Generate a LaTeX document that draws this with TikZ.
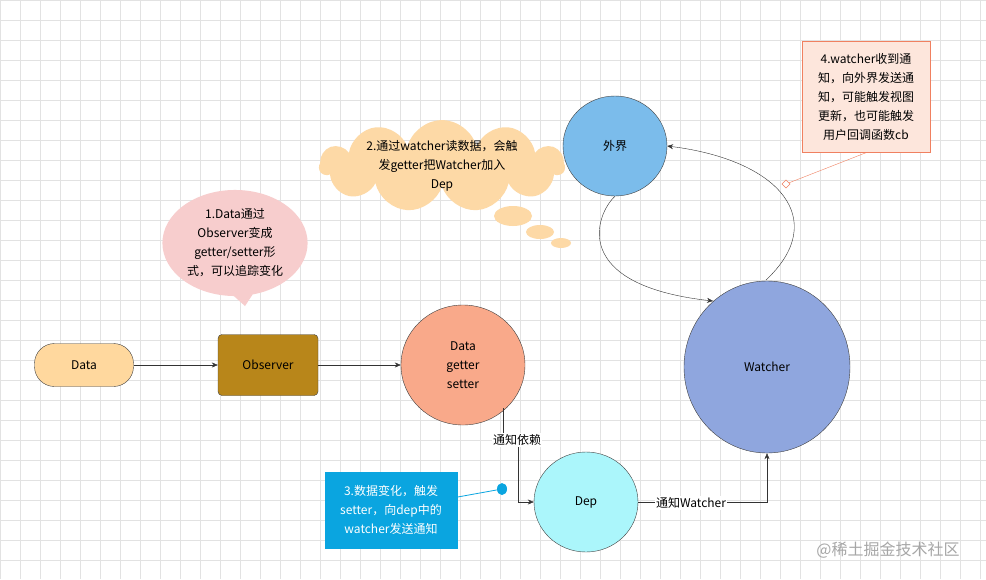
\documentclass[tikz,border=0pt]{standalone}
\usepackage{fontspec}
\setmainfont{Noto Sans CJK SC}
\usetikzlibrary{shapes.geometric,shapes.callouts,shapes.symbols,arrows.meta}
\definecolor{gridc}{HTML}{E2E2E2}
\definecolor{dataf}{HTML}{FFD89E}
\definecolor{obsf}{HTML}{B8861A}
\definecolor{dgsf}{HTML}{F9A98A}
\definecolor{watf}{HTML}{8FA6DE}
\definecolor{waijf}{HTML}{7BBCEB}
\definecolor{depf}{HTML}{ABF6FB}
\definecolor{pinkf}{HTML}{F7CDCD}
\definecolor{cloudf}{HTML}{FDD9A6}
\definecolor{notef}{HTML}{FDE6DC}
\definecolor{noted}{HTML}{F08060}
\definecolor{bluef}{HTML}{0AA5E0}
\begin{document}
\begin{tikzpicture}[x=1pt,y=-1pt,
  txt/.style={font=\fontsize{12}{19}\selectfont,align=center},
  circ/.style={ellipse,draw=black!75,txt},
  arr/.style={draw=black!80,-{Stealth[length=6pt,width=5pt]}},
  lbl/.style={fill=white,inner sep=1pt,txt}]
\useasboundingbox (0,0) rectangle (986,579);
\fill[white] (0,0) rectangle (986,579);
\foreach \i in {0,20,...,980} \draw[gridc] (\i,0) -- (\i,579);
\foreach \j in {0,20,...,570} \draw[gridc] (0,\j) -- (986,\j);
\node[draw=black!75,fill=dataf,rounded corners=20pt,minimum width=99,minimum height=43,txt] (data) at (84,365) {Data};
\node[draw=black!75,fill=obsf,rounded corners=4pt,minimum width=100,minimum height=61,txt] (obs) at (268,365) {Observer};
\node[circ,fill=dgsf,minimum width=124,minimum height=120] (dgs) at (463,365) {Data\\getter\\setter};
\node[circ,fill=watf,minimum width=166,minimum height=172] (wat) at (767,367) {Watcher};
\node[circ,fill=waijf,minimum width=104,minimum height=100] (wj) at (615,146) {外界};
\node[circ,fill=depf,minimum width=104,minimum height=100] (dep) at (586,502) {Dep};
% pink callout
\node[ellipse callout,fill=pinkf,minimum width=140,minimum height=92,callout absolute pointer={(245,306)},txt] (c1) at (235,243) {1.Data通过\\Observer变成\\getter/setter形\\式，可以追踪变化};
% cloud
\node[cloud,cloud puffs=11,aspect=2.6,fill=cloudf,minimum width=245,minimum height=92,inner sep=0] (c2) at (442,166) {};
\node[txt] (c2t) at (442,166) {2.通过watcher读数据，会触\\发getter把Watcher加入\\Dep};
\fill[cloudf] (513,216) ellipse (19 and 10);
\fill[cloudf] (540,232) ellipse (14 and 7);
\fill[cloudf] (561,243) ellipse (10 and 5);
% note
\node[draw=noted,fill=notef,minimum width=128,minimum height=111,txt] (note) at (866,97) {4.watcher收到通\\知，向外界发送通\\知，可能触发视图\\更新，也可能触发\\用户回调函数cb};
\coordinate (nd) at (786,184);
\draw[noted] (note.south) -- (nd);
\draw[noted,fill=white] (nd) ++(0,-4) -- ++(4,4) -- ++(-4,4) -- ++(-4,-4) -- cycle;
% blue box
\node[fill=bluef,text=white,minimum width=133,minimum height=77,txt] (blue) at (391,510) {3.数据变化，触发\\setter，向dep中的\\watcher发送通知};
\coordinate (bd) at (502,489);
\draw[bluef,thick] (blue.east |- 0,497) -- (bd);
\fill[bluef] (bd) ellipse (5 and 6);
% edges
\draw[arr] (data) -- (obs);
\draw[arr] (obs) -- (dgs);
\draw[arr] (503,408) -- (503,440) -- (518,440) -- (518,502) -- (dep.west);
\node[lbl] at (517,440) {通知依赖};
\draw[arr] (dep.east) -- (767,502) -- (wat.south);
\node[lbl] at (691,503) {通知Watcher};
\draw[arr] (wj.south) .. controls (595,215) and (570,285) .. (713,301);
\draw[arr] (766,280) .. controls (830,220) and (780,160) .. (wj.east);
\node[text=black!35,font=\fontsize{16}{16}\selectfont] (wm) at (888,550) {@稀土掘金技术社区};
\end{tikzpicture}
\end{document}
